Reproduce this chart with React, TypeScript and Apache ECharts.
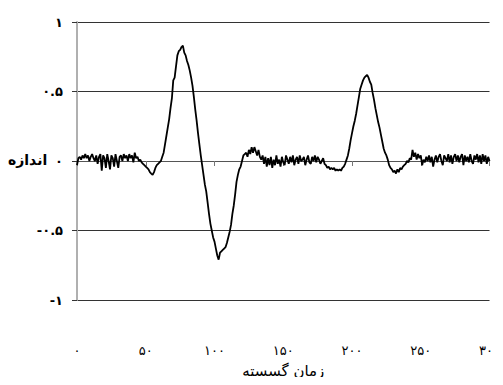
import React, { useEffect, useRef } from "react";
import * as echarts from "echarts";

const faDigits = ["۰", "۱", "۲", "۳", "۴", "۵", "۶", "۷", "۸", "۹"];
const toFa = (v: number) => String(v).replace(/\d/g, (d) => faDigits[Number(d)]);

const yTitle = "اندازه";
const xTitle = "زمان گسسته";
const xTicks = [0, 50, 100, 150, 200, 250, 300];
const yTicks = [-1, -0.5, 0, 0.5, 1];

// discrete time 0..300, magnitude
const sig0to45 = [
  -0.03, 0.02, 0.03, 0.01, 0.04, 0.02, 0.05, 0.02, 0.04, 0.0,
  0.03, 0.05, 0.02, 0.0, 0.04, -0.02, 0.03, 0.05, -0.07, 0.04,
  0.02, -0.05, 0.05, 0.0, -0.06, 0.04, 0.02, -0.04, 0.05, 0.0,
  -0.05, 0.03, 0.04, 0.0, 0.05, 0.02, 0.04, 0.0, 0.05, 0.02,
  0.04, -0.01, 0.06, 0.02, 0.03, 0.0,
];
const sig46to138 = [
  0.01, -0.01, -0.02, -0.03, -0.04, -0.05, -0.06, -0.08, -0.09, -0.1,
  -0.08, -0.05, -0.03, -0.02, -0.01, 0.0, 0.03, 0.06, 0.12, 0.18,
  0.24, 0.3, 0.38, 0.45, 0.58, 0.6, 0.68, 0.76, 0.79, 0.8,
  0.82, 0.83, 0.78, 0.76, 0.72, 0.69, 0.65, 0.6, 0.54, 0.46,
  0.37, 0.29, 0.2, 0.12, 0.04, -0.03, -0.1, -0.17, -0.22, -0.3,
  -0.38, -0.45, -0.5, -0.55, -0.58, -0.63, -0.68, -0.71, -0.66, -0.65,
  -0.64, -0.63, -0.62, -0.59, -0.55, -0.51, -0.46, -0.38, -0.32, -0.24,
  -0.15, -0.1, -0.06, -0.04, 0.0, 0.04, 0.05, 0.06, 0.03, 0.08,
  0.05, 0.1, 0.06, 0.1, 0.07, 0.04, 0.08, 0.03, 0.01, 0.04,
  -0.02, 0.03, -0.04,
];
const sig139to243 = [
  0.02, -0.03, 0.03, -0.05, 0.01, -0.03, 0.04, -0.02, 0.01, -0.04,
  0.03, -0.01, -0.03, 0.04, 0.01, -0.02, 0.03, -0.01, 0.04, -0.03,
  0.01, 0.03, -0.02, 0.04, 0.0, 0.01, 0.03, -0.03, 0.01, 0.04,
  -0.01, -0.02, 0.03, 0.0, 0.04, -0.01, 0.03, 0.01, -0.02, 0.0,
  0.02, -0.02, -0.03, -0.05, -0.04, -0.06, -0.05, -0.06, -0.05, -0.07,
  -0.06, -0.07, -0.06, -0.07, -0.05, -0.04, -0.02, 0.01, 0.04, 0.09,
  0.15, 0.2, 0.25, 0.29, 0.34, 0.4, 0.46, 0.52, 0.55, 0.58,
  0.6, 0.61, 0.62, 0.6, 0.57, 0.55, 0.49, 0.44, 0.38, 0.33,
  0.28, 0.24, 0.19, 0.14, 0.09, 0.06, 0.04, 0.01, -0.03, -0.05,
  -0.06, -0.08, -0.07, -0.09, -0.06, -0.08, -0.05, -0.06, -0.04, -0.03,
  -0.02, 0.0, -0.01, 0.02, 0.01,
];
const sig244to300 = [
  0.08, 0.03, 0.06, 0.01, 0.05, 0.02, 0.04, -0.03, 0.01, -0.01,
  0.03, 0.0, 0.04, -0.01, 0.03, -0.04, 0.01, 0.04, -0.01, 0.03,
  0.05, 0.0, -0.03, 0.04, 0.02, 0.0, 0.05, -0.01, 0.04, -0.02,
  0.03, 0.05, 0.0, 0.04, -0.01, 0.03, 0.05, -0.03, 0.04, 0.0,
  0.03, -0.01, 0.05, 0.0, -0.02, 0.04, 0.01, 0.05, -0.01, 0.04,
  -0.02, 0.05, 0.0, 0.04, -0.02, 0.03, 0.0,
];
const signal = [...sig0to45, ...sig46to138, ...sig139to243, ...sig244to300];

export default function App() {
  const ref = useRef<HTMLDivElement>(null);
  useEffect(() => {
    if (!ref.current) return;
    const chart = echarts.init(ref.current, null, { renderer: "svg" });
    const font = "DejaVu Sans";
    chart.setOption({
      animation: false,
      backgroundColor: "#ffffff",
      grid: { left: 77, right: 11, top: 22, bottom: 85, containLabel: false },
      xAxis: [
        {
          type: "value",
          min: 0,
          max: 300,
          interval: 50,
          position: "bottom",
          axisLine: { show: false, onZero: false },
          axisTick: { show: false },
          splitLine: { show: false },
          axisLabel: {
            margin: 44,
            color: "#000",
            fontFamily: font,
            fontSize: 13,
            formatter: (v: number) => (xTicks.includes(v) ? toFa(v) : ""),
          },
          name: xTitle,
          nameLocation: "middle",
          nameGap: 71,
          nameTextStyle: { color: "#000", fontFamily: font, fontSize: 15, verticalAlign: "middle" },
        },
        {
          type: "value",
          min: 0,
          max: 300,
          interval: 50,
          position: "bottom",
          axisLine: { show: true, onZero: true, lineStyle: { color: "#555", width: 1 } },
          axisTick: { show: true, length: 5, lineStyle: { color: "#777" } },
          splitLine: { show: false },
          axisLabel: { show: false },
        },
      ],
      yAxis: {
        type: "value",
        min: -1,
        max: 1,
        interval: 0.5,
        axisLine: { show: true, onZero: false, lineStyle: { color: "#b0b0b0", width: 2 } },
        axisTick: { show: true, length: 5, lineStyle: { color: "#333" } },
        splitLine: { show: true, lineStyle: { color: "#333", width: 1 } },
        axisLabel: {
          margin: 14,
          color: "#000",
          fontFamily: font,
          fontWeight: "bold",
          fontSize: 13,
          formatter: (v: number) => (yTicks.includes(v) ? toFa(v) : ""),
        },
      },
      graphic: [
        {
          type: "text",
          left: 8,
          top: 153,
          style: {
            text: yTitle,
            fill: "#000",
            font: `bold 14px "${font}"`,
          },
        },
      ],
      series: [
        {
          type: "line",
          xAxisIndex: 0,
          data: signal.map((v, i) => [i, v]),
          showSymbol: false,
          symbol: "none",
          lineStyle: { color: "#000", width: 1.8 },
        },
      ],
    });
    return () => chart.dispose();
  }, []);
  return <div ref={ref} style={{ width: 503, height: 385, margin: -8 }} />;
}
